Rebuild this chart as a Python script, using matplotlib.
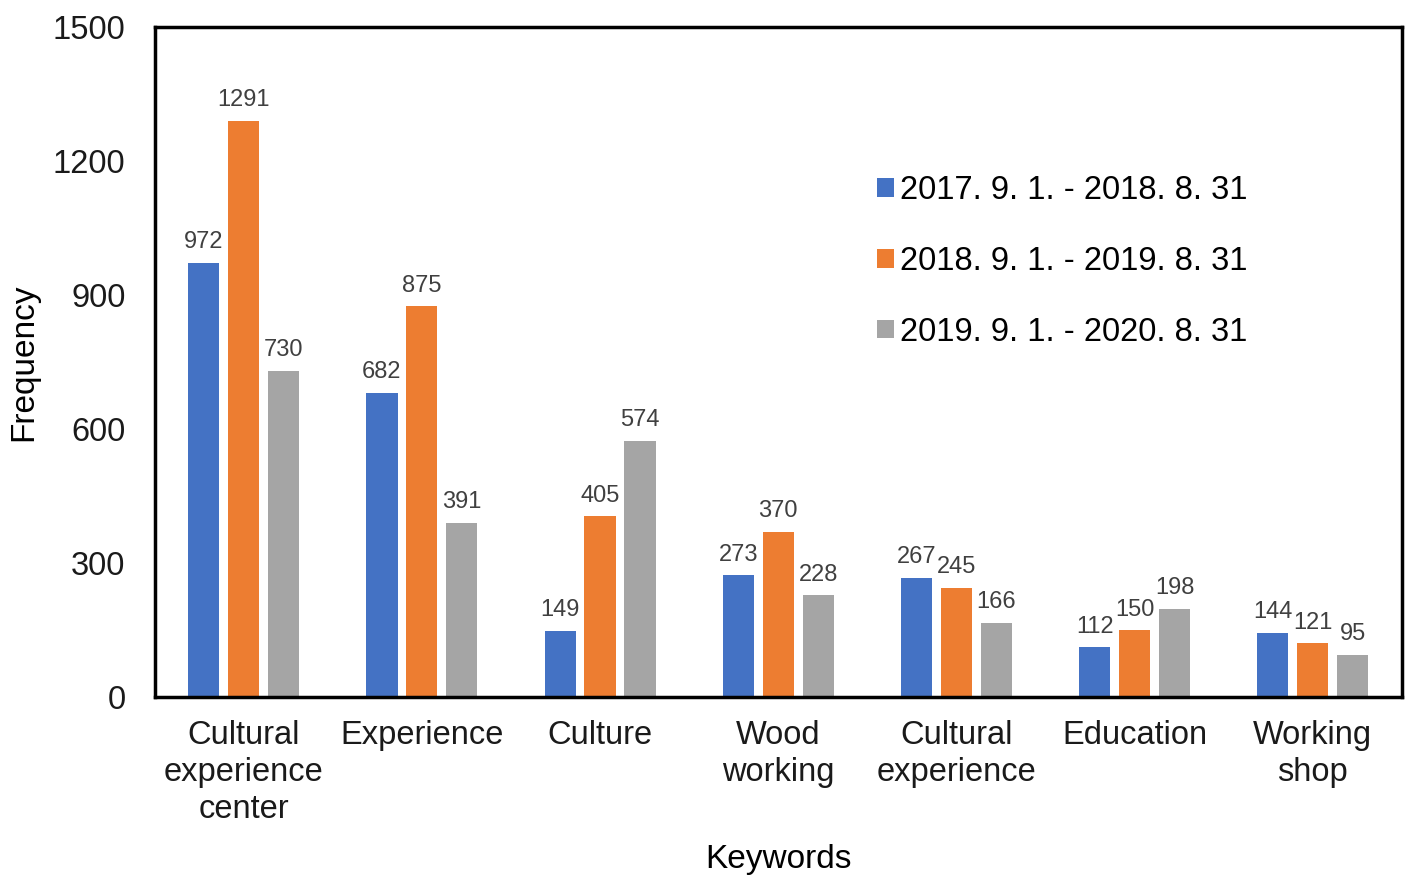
import numpy as np
import matplotlib.pyplot as plt

plt.rcParams['font.family'] = ['Liberation Sans', 'DejaVu Sans']

keywords = ['Cultural\nexperience\ncenter', 'Experience', 'Culture', 'Wood\nworking',
            'Cultural\nexperience', 'Education', 'Working\nshop']
periods = ['2017. 9. 1. - 2018. 8. 31', '2018. 9. 1. - 2019. 8. 31', '2019. 9. 1. - 2020. 8. 31']
freq_2017 = [972, 682, 149, 273, 267, 112, 144]
freq_2018 = [1291, 875, 405, 370, 245, 150, 121]
freq_2019 = [730, 391, 574, 228, 166, 198, 95]
colors = ['#4472C4', '#ED7D31', '#A5A5A5']

fig = plt.figure(figsize=(14.06, 8.76), dpi=100)
ax = fig.add_axes([0.110, 0.204, 0.887, 0.765])

x = np.arange(len(keywords))
width = 0.175
step = 0.224
for i, (vals, c, lab) in enumerate(zip([freq_2017, freq_2018, freq_2019], colors, periods)):
    bars = ax.bar(x + (i - 1) * step, vals, width, color=c, label=lab)
    ax.bar_label(bars, padding=7, fontsize=17, color='#404040')

ax.set_xlim(-0.5, len(keywords) - 0.5)
ax.set_ylim(0, 1500)
ax.set_yticks(range(0, 1501, 300))
ax.set_xticks(x)
ax.set_xticklabels(keywords, fontsize=23.5, linespacing=1.25)
ax.tick_params(axis='both', length=0, labelsize=23.5, colors='#1a1a1a')
ax.tick_params(axis='x', pad=16)
ax.tick_params(axis='y', pad=21)
for s in ax.spines.values():
    s.set_linewidth(2.5)
    s.set_color('black')

ax.set_ylabel('Frequency', fontsize=24, labelpad=10)
ax.set_xlabel('Keywords', fontsize=24, labelpad=14)

ax.legend(loc='upper left', bbox_to_anchor=(0.556, 0.823), frameon=False, fontsize=23.5,
          handlelength=0.5, handleheight=0.5, handletextpad=0.2, labelspacing=1.22)

fig.savefig('out.png', dpi=100)
